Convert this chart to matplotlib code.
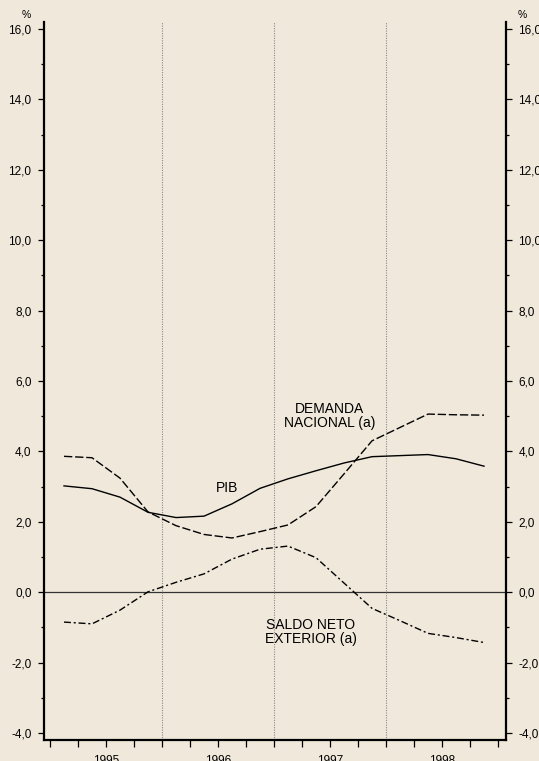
import numpy as np
import matplotlib.pyplot as plt
from matplotlib.ticker import MultipleLocator, FixedLocator, FuncFormatter
from matplotlib.transforms import blended_transform_factory, offset_copy

plt.rcParams['font.family'] = ['Liberation Sans', 'DejaVu Sans']

# quarterly data, 1995 Q1 .. 1998 Q4 (% change)
years = ['1995', '1996', '1997', '1998']
pib = [3.02, 2.94, 2.70, 2.27, 2.12, 2.16, 2.51, 2.95,
       3.22, 3.45, 3.67, 3.85, 3.88, 3.91, 3.79, 3.58]
demanda = [3.86, 3.82, 3.24, 2.28, 1.89, 1.64, 1.54, 1.72,
           1.91, 2.43, 3.36, 4.30, 4.68, 5.06, 5.04, 5.03]
saldo = [-0.85, -0.90, -0.51, 0.01, 0.28, 0.52, 0.94, 1.22,
         1.31, 0.98, 0.26, -0.46, -0.81, -1.17, -1.29, -1.43]

bg = '#F0E9DB'
W, H = 539, 761
fig = plt.figure(figsize=(W / 100, H / 100), dpi=100, facecolor=bg)
ax = fig.add_axes([44 / W, 21 / H, (506 - 44) / W, (740 - 22) / H])
ax.set_facecolor(bg)

x = np.arange(len(pib)) + 0.5
ax.plot(x, pib, color='black', lw=1.0)
ax.plot(x, demanda, color='black', lw=1.0, linestyle=(0, (6, 2)))
ax.plot(x, saldo, color='black', lw=1.0, linestyle=(0, (5, 2, 1.5, 2)))

ax.axhline(0, color='#333333', lw=0.9, zorder=1)
for yb in (4, 8, 12):
    ax.axvline(yb, color='#888888', lw=0.8, linestyle=(0, (1, 1.2)), zorder=1)

ax.set_xlim(-6 / 28, 16 + 8 / 28)
ax.set_ylim(-4.2, 16.2)

# y axis on both sides
ax.yaxis.set_major_locator(MultipleLocator(2))
ax.yaxis.set_minor_locator(MultipleLocator(1))
ax.yaxis.set_major_formatter(FuncFormatter(lambda v, p: f'{v:.1f}'.replace('.', ',')))
ax.tick_params(axis='y', which='both', left=True, right=True,
               labelleft=True, labelright=True, direction='out',
               width=0.9, labelsize=8.5, pad=4.5, colors='black')
ax.tick_params(axis='y', which='major', length=4.5)
ax.tick_params(axis='y', which='minor', length=2.5)

# x axis: quarter ticks, year labels centred between year boundaries
ax.xaxis.set_major_locator(FixedLocator(range(17)))
ax.xaxis.set_major_formatter(FuncFormatter(lambda v, p: ''))
ax.tick_params(axis='x', which='major', direction='out', length=5, width=0.9)
ytrans = offset_copy(blended_transform_factory(ax.transData, ax.transAxes),
                     fig=fig, y=-15, units='dots')
for i, yr in enumerate(years):
    ax.text(4 * i + 2, 0, yr, transform=ytrans, ha='center', va='top',
            fontsize=8.5, clip_on=False)

for side in ('left', 'right', 'bottom'):
    ax.spines[side].set_linewidth(1.6)
ax.spines['top'].set_visible(False)

fs = 10
ax.text((227 - 50) / 28, 2.95, 'PIB', ha='center', va='center', fontsize=fs)
ax.text((330 - 50) / 28, 5.0, 'DEMANDA\nNACIONAL (a)', ha='center', va='center',
        fontsize=fs, linespacing=1.0)
ax.text((311 - 50) / 28, -1.12, 'SALDO NETO\nEXTERIOR (a)', ha='center', va='center',
        fontsize=fs, linespacing=1.0)

fig.text(26 / W, 1 - 15 / H, '%', ha='center', va='center', fontsize=7.5)
fig.text(522 / W, 1 - 15 / H, '%', ha='center', va='center', fontsize=7.5)

fig.savefig('out.png', dpi=100, facecolor=bg)
